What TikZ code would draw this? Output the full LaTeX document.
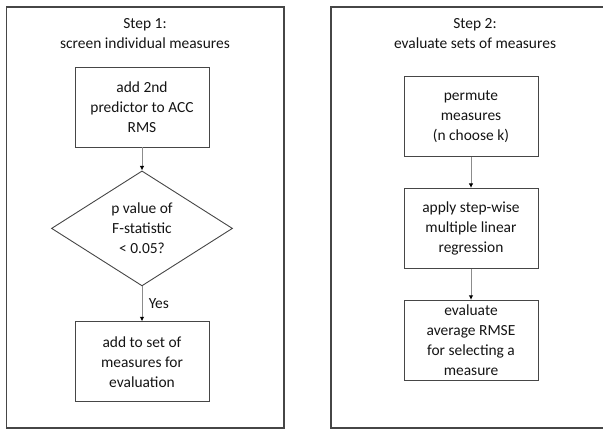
\documentclass[tikz,border=0pt]{standalone}
\usepackage{fontspec}
\setmainfont{Carlito}
\usepackage{tikz}
\usetikzlibrary{shapes.geometric, arrows.meta, positioning}
\definecolor{framegray}{RGB}{70,70,70}
\definecolor{linkgray}{RGB}{140,140,140}
\definecolor{textgray}{RGB}{20,20,20}

\begin{document}
\begin{tikzpicture}[
    x=1bp, y=1bp,
    font=\fontsize{15.5}{20}\selectfont,
    panel/.style={draw=framegray, line width=1.1bp},
    title/.style={align=center, text=textgray},
    process/.style={rectangle, minimum width=134bp, minimum height=80bp, inner sep=1bp, align=center, draw=framegray, line width=0.9bp, text=textgray},
    decision/.style={diamond, aspect=1.57, minimum width=181bp, minimum height=115bp, inner sep=0pt, align=center, draw=framegray, line width=0.9bp, text=textgray},
    arrow/.style={draw=linkgray, line width=0.9bp, -{Latex[length=4.5bp, width=4.5bp, color=black]}}
]
\useasboundingbox (0,0) rectangle (603,430);

% panels
\draw [panel] (6.5,2) rectangle (284,423);
\draw [panel] (603,423) -- (331,423) -- (331,2) -- (603,2);

% step 1
\node (title1) [title] at (145,396) {Step 1:\\screen individual measures};
\node (second) [process] at (142,323) {add 2nd\\predictor to ACC\\RMS};
\node (ftest) [decision, below=23bp of second] {p value of\\F-statistic\\< 0.05?};
\node (addset) [process, below=35bp of ftest] {add to set of\\measures for\\evaluation};

% step 2
\node (title2) [title] at (475,396) {Step 2:\\evaluate sets of measures};
\node (permute) [process] at (471,313.5) {permute\\measures\\(n choose k)};
\node (stepwise) [process, below=31bp of permute] {apply step-wise\\multiple linear\\regression};
\node (rmse) [process, below=31bp of stepwise] {evaluate\\average RMSE\\for selecting a\\measure};

\draw [arrow] (second) -- (ftest);
\draw [arrow] (ftest) -- node[right=3bp, text=textgray] {Yes} (addset);
\draw [arrow] (permute) -- (stepwise);
\draw [arrow] (stepwise) -- (rmse);

\end{tikzpicture}
\end{document}
